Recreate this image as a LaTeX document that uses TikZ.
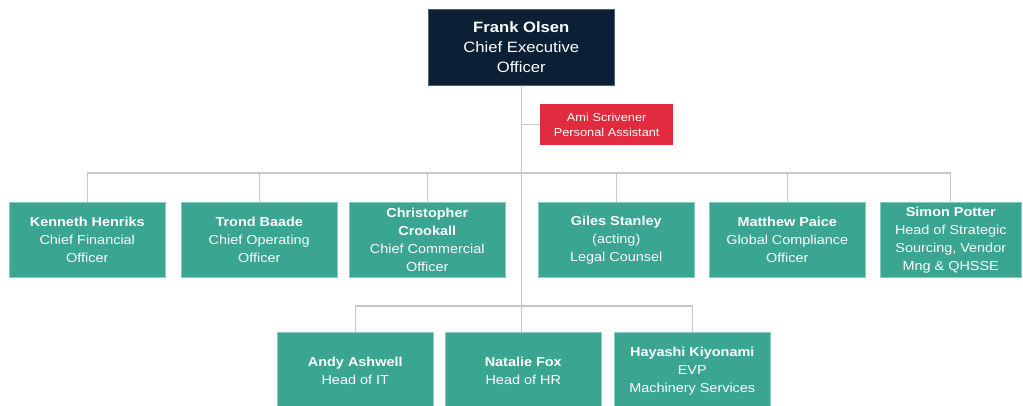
\documentclass[tikz,border=0pt]{standalone}
\usepackage{fontspec}
\setmainfont{Liberation Sans}[FakeStretch=1.11]
\usetikzlibrary{positioning}
\definecolor{ocnavy}{HTML}{0B2035}
\definecolor{ocred}{HTML}{E12B3E}
\definecolor{octeal}{HTML}{3AA692}
\definecolor{ocline}{HTML}{C8C8C8}
\tikzset{
  ocbox/.style   = {anchor=north west, align=center, inner sep=1pt, text=white},
  chief/.style   = {ocbox, fill=ocnavy, draw=ocnavy!70, line width=0.6pt,
                    minimum width=186pt, minimum height=76pt,
                    font=\fontsize{15}{20}\selectfont},
  assist/.style  = {ocbox, fill=ocred, minimum width=133pt, minimum height=41pt,
                    font=\fontsize{11.5}{15}\selectfont},
  report/.style  = {ocbox, fill=octeal, draw=octeal!60, line width=0.5pt,
                    minimum width=156pt, minimum height=75pt,
                    font=\fontsize{13}{18}\selectfont},
  link/.style    = {draw=ocline, line width=1.4pt},
}
\begin{document}
\begin{tikzpicture}[x=1pt, y=-1pt]
  \useasboundingbox (0,0) rectangle (1023,406);

  % ---------- top of the tree ---------------------------------------------
  \node[chief] (ceo) at (428,9)
    {\textbf{Frank Olsen}\\ Chief Executive\\ Officer};
  \node[assist] (pa) at (540,104)
    {Ami Scrivener\\ Personal Assistant};

  % ---------- direct reports ----------------------------------------------
  \node[report] (cfo)  at (9,202)   {\textbf{Kenneth Henriks}\\ Chief Financial\\ Officer};
  \node[report] (coo)  at (181,202) {\textbf{Trond Baade}\\ Chief Operating\\ Officer};
  \node[report] (cco)  at (349,202) {\textbf{Christopher}\\ \textbf{Crookall}\\ Chief Commercial\\ Officer};
  \node[report] (legal) at (538,202) {\textbf{Giles Stanley}\\ (acting)\\ Legal Counsel};
  \node[report] (comp) at (709,202) {\textbf{Matthew Paice}\\ Global Compliance\\ Officer};
  \node[report, minimum width=141pt] (src) at (880,202)
    {\textbf{Simon Potter}\\ Head of Strategic\\ Sourcing, Vendor\\ Mng \& QHSSE};

  % ---------- second row --------------------------------------------------
  \node[report, minimum height=78pt] (it)  at (277,332) {\textbf{Andy Ashwell}\\ Head of IT};
  \node[report, minimum height=78pt] (hr)  at (445,332) {\textbf{Natalie Fox}\\ Head of HR};
  \node[report, minimum height=78pt] (mach) at (614,332)
    {\textbf{Hayashi Kiyonami}\\ EVP\\ Machinery Services};

  % ---------- connectors --------------------------------------------------
  \coordinate (busA) at (521,173);
  \coordinate (busB) at (521,306);
  \draw[link] (ceo.south) -- (ceo.south |- hr.north);
  \draw[link] (pa.west) -- (pa.west -| ceo.south);
  \draw[link] (cfo.north) |- (busA) -| (src.north);
  \foreach \n in {coo, cco, legal, comp}
    \draw[link] (\n.north) -- (\n.north |- busA);
  \draw[link] (it.north) |- (busB) -| (mach.north);

\end{tikzpicture}
\end{document}
